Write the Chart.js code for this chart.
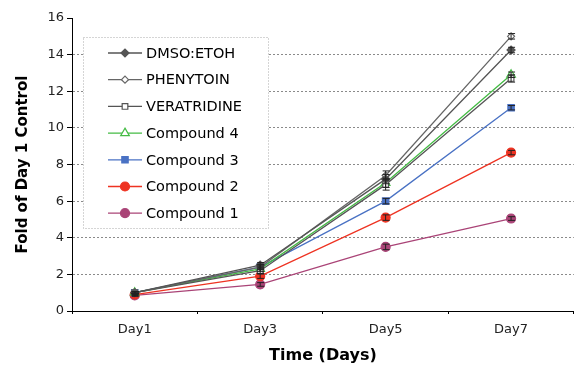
<!DOCTYPE html>
<html>
<head>
<meta charset="utf-8">
<script src="https://cdn.jsdelivr.net/npm/chart.js@4/dist/chart.umd.min.js"></script>
<style>
  html, body { margin: 0; padding: 0; background: #fff; overflow: hidden; }
  #wrap { width: 574px; height: 365px; overflow: hidden; }
</style>
</head>
<body>
<div id="wrap"><canvas id="growthChart" width="580" height="365"></canvas></div>
<script>
// ================= DATA =================
const days = ["Day1", "Day3", "Day5", "Day7"];
const yTicks = [0, 2, 4, 6, 8, 10, 12, 14, 16];

const dmso        = [1.0, 2.5, 7.2, 14.25];
const phenytoin   = [1.0, 2.4, 7.4, 15.0];
const veratridine = [1.0, 2.2, 6.9, 12.7];
const compound4   = [1.0, 2.3, 7.0, 12.9];
const compound3   = [1.0, 2.4, 6.0, 11.1];
const compound2   = [0.9, 1.9, 5.1, 8.65];
const compound1   = [0.85, 1.45, 3.5, 5.05];

// error bar half-heights
const dmsoErr        = [0.05, 0.15, 0.25, 0.15];
const phenytoinErr   = [0.05, 0.15, 0.25, 0.15];
const veratridineErr = [0.05, 0.15, 0.3, 0.2];
const compound4Err   = [0.05, 0.15, 0.25, 0.15];
const compound3Err   = [0.05, 0.12, 0.15, 0.12];
const compound2Err   = [0.05, 0.12, 0.15, 0.12];
const compound1Err   = [0.05, 0.1, 0.15, 0.1];

const FONT = "'DejaVu Sans', Verdana, sans-serif";

// ================= SERIES =================
function series(label, data, err, color, style, fill, radius) {
    return {
        label: label,
        data: data,
        errors: err,
        borderColor: color,
        backgroundColor: fill ? color : "#ffffff",
        pointBorderColor: color,
        pointBackgroundColor: fill ? color : "#ffffff",
        pointStyle: style,
        pointRadius: radius,
        pointBorderWidth: 1.2,
        borderWidth: 1.3,
        tension: 0,
        fill: false
    };
}

const datasets = [
    series("DMSO:ETOH", dmso, dmsoErr, "#555555", "rectRot", true, 4),
    series("PHENYTOIN", phenytoin, phenytoinErr, "#666666", "rectRot", false, 3.5),
    series("VERATRIDINE", veratridine, veratridineErr, "#555555", "rect", false, 4),
    series("Compound 4", compound4, compound4Err, "#44bb44", "triangle", false, 5),
    series("Compound 3", compound3, compound3Err, "#4a72c4", "rect", true, 4.5),
    series("Compound 2", compound2, compound2Err, "#ee3322", "circle", true, 4.5),
    series("Compound 1", compound1, compound1Err, "#aa4477", "circle", true, 4.5)
];

// ================= ERROR BARS =================
const errorBars = {
    id: "errorBars",
    afterDatasetsDraw(chart) {
        const ctx = chart.ctx;
        const y = chart.scales.y;
        ctx.save();
        ctx.strokeStyle = "#222";
        ctx.lineWidth = 1;
        chart.data.datasets.forEach((ds, i) => {
            const meta = chart.getDatasetMeta(i);
            meta.data.forEach((pt, j) => {
                const e = ds.errors[j];
                const top = y.getPixelForValue(ds.data[j] + e);
                const bot = y.getPixelForValue(ds.data[j] - e);
                const x = pt.x;
                ctx.beginPath();
                ctx.moveTo(x, top); ctx.lineTo(x, bot);
                ctx.moveTo(x - 3, top); ctx.lineTo(x + 4, top);
                ctx.moveTo(x - 3, bot); ctx.lineTo(x + 4, bot);
                ctx.stroke();
            });
        });
        ctx.restore();
    }
};

// ================= LEGEND BOX =================
const legendBox = {
    id: "legendBox",
    afterDraw(chart) {
        const ctx = chart.ctx;
        const bx = 83, by = 37, bw = 185, bh = 191;
        ctx.save();
        ctx.fillStyle = "#ffffff";
        ctx.fillRect(bx, by, bw, bh);
        ctx.strokeStyle = "#aaaaaa";
        ctx.lineWidth = 1;
        ctx.setLineDash([1, 2]);
        ctx.strokeRect(bx + 0.5, by + 0.5, bw, bh);
        ctx.setLineDash([]);
        ctx.font = "14.5px " + FONT;
        ctx.textBaseline = "middle";
        chart.data.datasets.forEach((ds, i) => {
            const ry = 53 + i * 26.7;
            ctx.strokeStyle = ds.borderColor;
            ctx.lineWidth = 1.3;
            ctx.beginPath();
            ctx.moveTo(108, ry); ctx.lineTo(142, ry);
            ctx.stroke();
            ctx.fillStyle = ds.pointBackgroundColor;
            ctx.lineWidth = 1.2;
            Chart.helpers.drawPoint(ctx, {
                pointStyle: ds.pointStyle,
                radius: ds.pointRadius,
                borderWidth: 1.2,
                rotation: 0
            }, 125, ry);
            ctx.fillStyle = "#000000";
            ctx.fillText(ds.label, 146, ry + 1);
        });
        ctx.restore();
    }
};

// ================= CHART =================
new Chart(document.getElementById("growthChart"), {
    type: "line",
    data: { labels: days, datasets: datasets },
    plugins: [errorBars, legendBox],
    options: {
        responsive: false,
        animation: false,
        layout: { padding: { top: 18, right: 0, left: 0, bottom: 0 } },
        plugins: {
            legend: { display: false },
            tooltip: { enabled: false }
        },
        scales: {
            x: {
                offset: true,
                afterFit: s => { s.height = 54; },
                grid: {
                    offset: true,
                    drawOnChartArea: false,
                    tickLength: 3,
                    tickColor: "#000"
                },
                border: { color: "#000", width: 1 },
                ticks: {
                    color: "#222",
                    padding: 8,
                    font: { family: FONT, size: 13 }
                },
                title: {
                    display: true,
                    text: "Time (Days)",
                    color: "#000",
                    padding: { top: 0, bottom: 0 },
                    font: { family: FONT, size: 16, weight: "bold" }
                }
            },
            y: {
                min: 0,
                max: 16,
                afterFit: s => { s.width = 72; },
                afterBuildTicks: s => { s.ticks = yTicks.map(v => ({ value: v })); },
                grid: {
                    color: ctx => (ctx.tick && (ctx.tick.value === 0 || ctx.tick.value === 16)) ? "rgba(0,0,0,0)" : "#8a8a8a",
                    tickColor: "#000",
                    tickBorderDash: [],
                    tickLength: 5
                },
                border: { color: "#000", width: 1, dash: [2, 2] },
                ticks: {
                    color: "#222",
                    padding: 3,
                    font: { family: FONT, size: 13 }
                },
                title: {
                    display: true,
                    text: "Fold of Day 1 Control",
                    color: "#000",
                    padding: { top: 14, bottom: 0 },
                    font: { family: FONT, size: 15, weight: "bold" }
                }
            }
        }
    }
});
</script>
</body>
</html>
